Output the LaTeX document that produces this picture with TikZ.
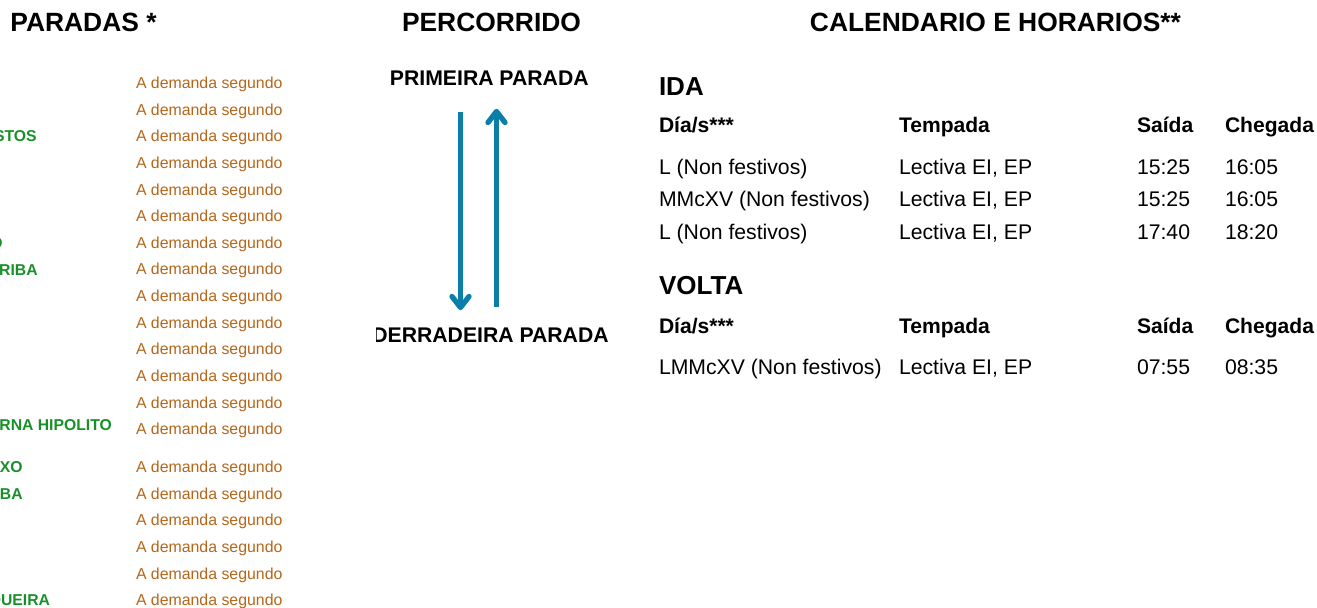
\documentclass[tikz,border=0pt]{standalone}
\usepackage{fontspec}
\setmainfont{Liberation Sans}
\definecolor{demandcol}{HTML}{B5661A}
\definecolor{stopgreen}{HTML}{18902A}
\definecolor{routeblue}{HTML}{0A7EA6}
\begin{document}
\begin{tikzpicture}[x=0.75pt,y=-0.75pt,
  every node/.style={inner sep=0pt,outer sep=0pt},
  hdr/.style={font=\fontsize{19.8}{24}\selectfont\bfseries,anchor=base},
  sechdr/.style={font=\fontsize{19.5}{24}\selectfont\bfseries,anchor=base west},
  endpt/.style={font=\fontsize{15.9}{19}\selectfont\bfseries,anchor=base},
  colhdr/.style={font=\fontsize{15.8}{19}\selectfont\bfseries,anchor=base west},
  cell/.style={font=\fontsize{15.9}{19}\selectfont,anchor=base west},
  demand/.style={font=\fontsize{11.9}{14}\selectfont,text=demandcol,anchor=base west},
  stopname/.style={font=\fontsize{11.8}{14}\selectfont\bfseries,text=stopgreen,anchor=base east},
  route/.style={draw=routeblue,line width=3.4pt},
  routehead/.style={draw=routeblue,line width=4pt,line cap=round,line join=round}
]
\useasboundingbox (0,0) rectangle (1317,607);
\begin{scope}
\clip (0,0) rectangle (1317,607);
% headers
\node[hdr] (hparadas) at (83.5,31) {PARADAS *};
\node[hdr] (hpercorrido) at (491.5,31) {PERCORRIDO};
\node[hdr] (hcalendario) at (995.5,31) {CALENDARIO E HORARIOS**};
% demand column
\foreach \i in {1,...,14} {
  \node[demand] (dem\i) at (136,{82.7+26.65*(\i-1)+5.7}) {A demanda segundo};
}
\foreach \j in {0,...,5} {
  \node[demand] (demb\j) at (136,{466.7+26.65*\j+5.7}) {A demanda segundo};
}
% stop names (clipped at the left edge)
\node[stopname] (s3) at (36.7,141.7) {STOS};
\node[stopname] (s7) at (2.5,248.4) {O};
\node[stopname] (s8) at (37.7,275) {RIBA};
\node[stopname] (s14) at (111.9,430.7) {RNA HIPOLITO};
\node[stopname] (s15) at (22.7,472.4) {XO};
\node[stopname] (s16) at (22.7,499) {BA};
\node[stopname] (s20) at (50,605.7) {QUEIRA};
% route column
\node[endpt] (first) at (489.3,85.9) {PRIMEIRA PARADA};
\begin{scope}
\clip (376,300) rectangle (700,360);
\node[endpt] (last) at (490.5,342.6) {DERRADEIRA PARADA};
\end{scope}
\coordinate (downtop) at (460.5,111.7);
\coordinate (downbot) at (460.5,307.5);
\coordinate (upbot) at (496.5,306.5);
\coordinate (uptop) at (496.5,111.5);
\draw[route] (downtop) -- (downbot);
\draw[routehead] ([shift={(-8.5,-11)}]downbot) -- (downbot) -- ([shift={(8.5,-11)}]downbot);
\draw[route] (upbot) -- (uptop);
\draw[routehead] ([shift={(-8.5,11)}]uptop) -- (uptop) -- ([shift={(8.5,11)}]uptop);
% IDA table
\node[sechdr] (ida) at (659,95) {IDA};
\node[colhdr] (idad) at (659,132.6) {Día/s***};
\node[colhdr] (idat) at (899,132.6) {Tempada};
\node[colhdr] (idas) at (1137,132.6) {Saída};
\node[colhdr] (idac) at (1225,132.6) {Chegada};
\node[cell] (r1a) at (659,174.5) {L (Non festivos)};
\node[cell] (r1b) at (899,174.5) {Lectiva EI, EP};
\node[cell] (r1c) at (1137,174.5) {15:25};
\node[cell] (r1d) at (1225,174.5) {16:05};
\node[cell] (r2a) at (659,206.8) {MMcXV (Non festivos)};
\node[cell] (r2b) at (899,206.8) {Lectiva EI, EP};
\node[cell] (r2c) at (1137,206.8) {15:25};
\node[cell] (r2d) at (1225,206.8) {16:05};
\node[cell] (r3a) at (659,239.1) {L (Non festivos)};
\node[cell] (r3b) at (899,239.1) {Lectiva EI, EP};
\node[cell] (r3c) at (1137,239.1) {17:40};
\node[cell] (r3d) at (1225,239.1) {18:20};
% VOLTA table
\node[sechdr] (volta) at (659,294.5) {VOLTA};
\node[colhdr] (vold) at (659,333) {Día/s***};
\node[colhdr] (volt) at (899,333) {Tempada};
\node[colhdr] (vols) at (1137,333) {Saída};
\node[colhdr] (volc) at (1225,333) {Chegada};
\node[cell] (v1a) at (659,374.3) {LMMcXV (Non festivos)};
\node[cell] (v1b) at (899,374.3) {Lectiva EI, EP};
\node[cell] (v1c) at (1137,374.3) {07:55};
\node[cell] (v1d) at (1225,374.3) {08:35};
\end{scope}
\end{tikzpicture}
\end{document}
